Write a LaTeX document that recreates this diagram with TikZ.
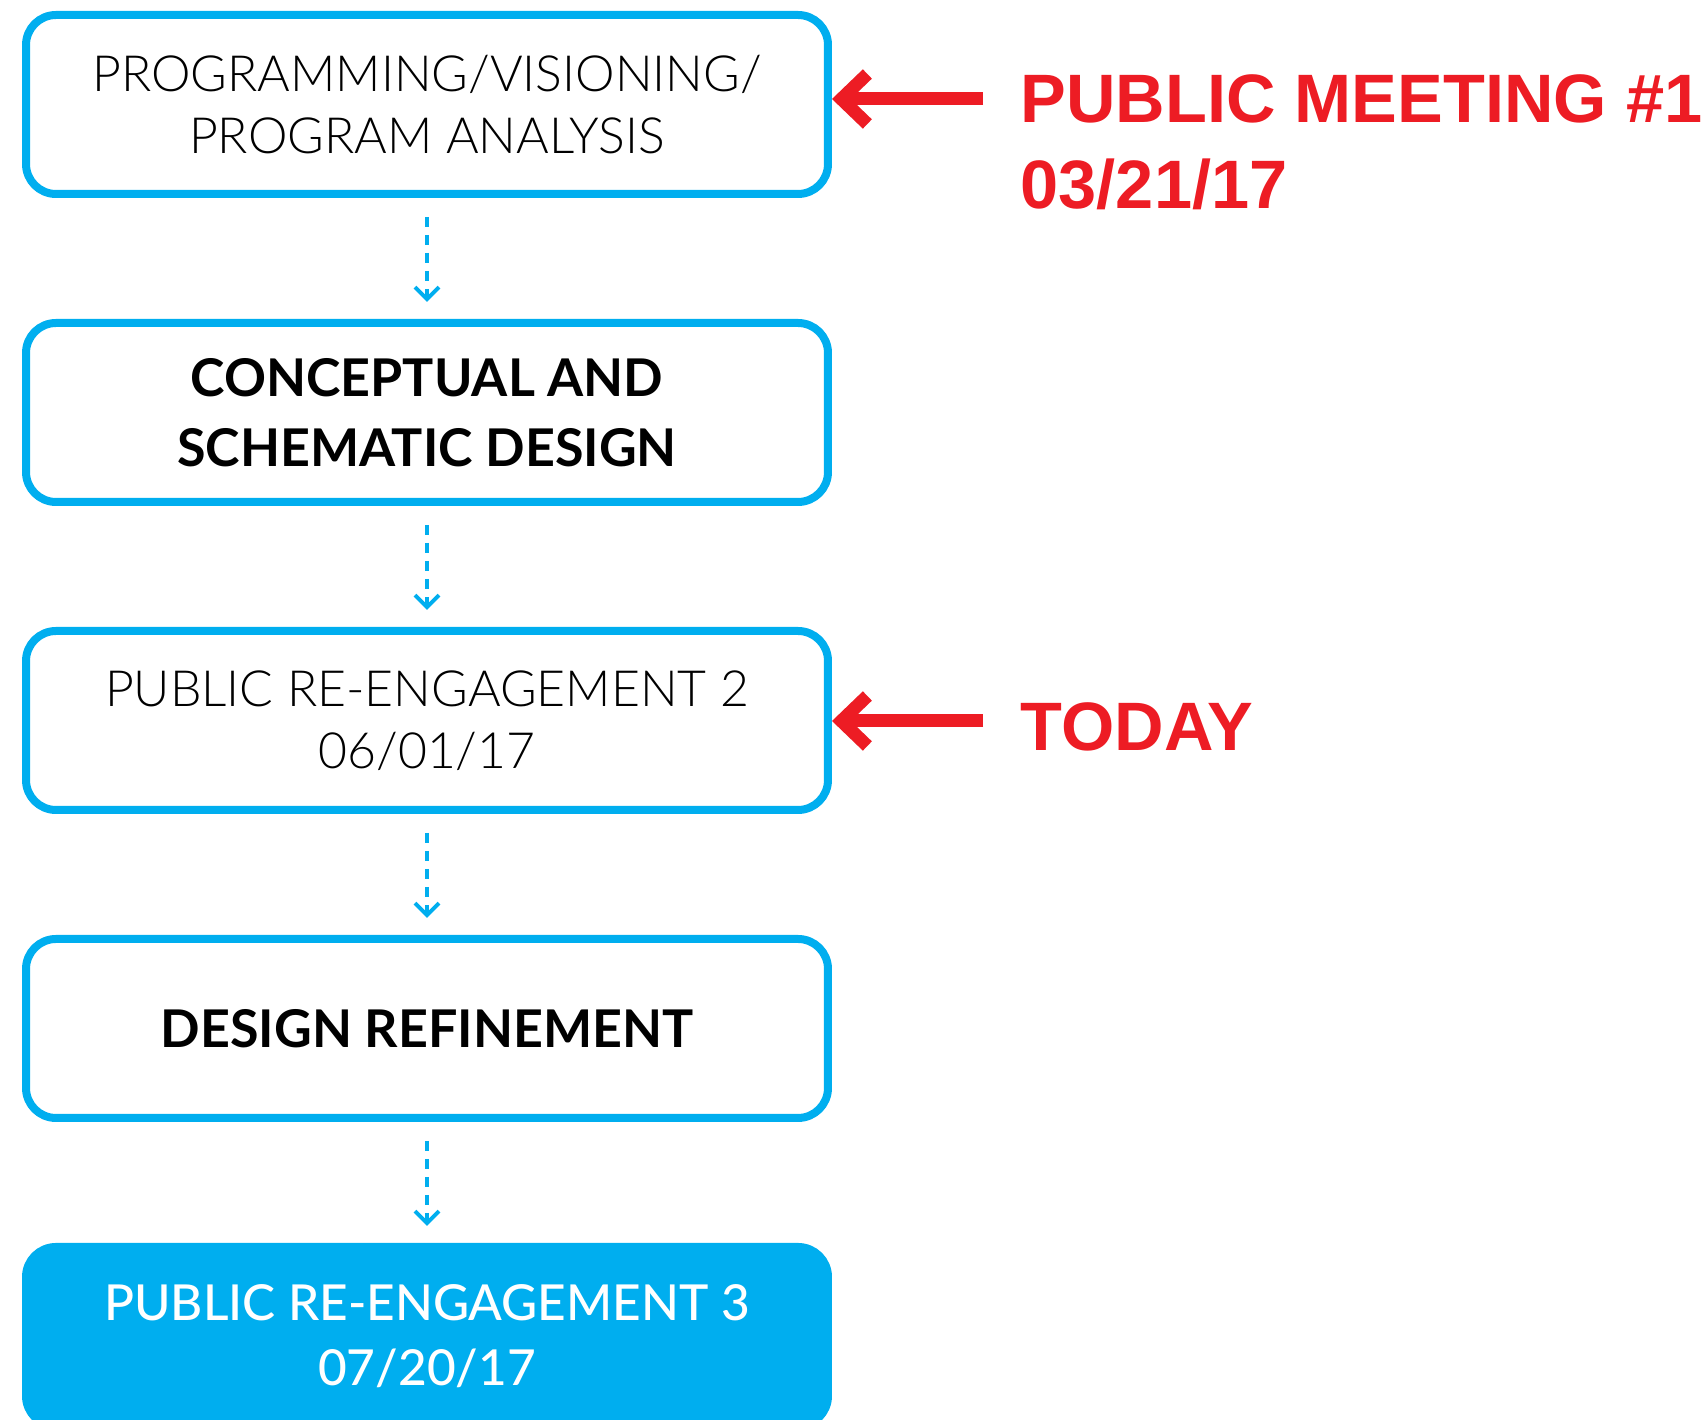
\documentclass[tikz,border=0pt]{standalone}
\usepackage{fontspec}
\setmainfont{Lato}
\newfontfamily\lightfont{Lato Light}
\newfontfamily\mediumfont{Lato Medium}
\newfontfamily\redfont{Liberation Sans}
\usetikzlibrary{positioning,arrows.meta}
\definecolor{stageblue}{HTML}{00AEEF}
\definecolor{markred}{HTML}{ED1C24}
\begin{document}
\begin{tikzpicture}[x=0.1mm,y=-0.1mm,node distance=12.1mm,
  stage/.style={draw=stageblue,line width=0.8mm,rounded corners=3mm,
    minimum width=80.2mm,minimum height=17.9mm,align=center},
  thin/.style={font=\lightfont\fontsize{14.2}{17.8}\selectfont},
  heavy/.style={font=\bfseries\fontsize{14.8}{19.9}\selectfont},
  flow/.style={stageblue,line width=0.4mm,dash pattern=on 1mm off 0.8mm,
    shorten <=1.9mm,shorten >=1.7mm,-{Straight Barb[length=1.2mm,width=2.4mm]}},
  callout/.style={markred,line width=1.3mm,-{Straight Barb[length=2.6mm,width=5mm]}},
  note/.style={text=markred,font=\redfont\bfseries\fontsize{19.5}{24.5}\selectfont,
    align=left,inner sep=0pt}]
\useasboundingbox (0,0) rectangle (1706,1420);

\node[stage,thin] (prog) at (427,104.5) {PROGRAMMING/VISIONING/\\PROGRAM ANALYSIS};
\node[stage,heavy,below=of prog] (concept) {CONCEPTUAL AND\\SCHEMATIC DESIGN};
\node[stage,thin,below=of concept] (engage2) {PUBLIC RE-ENGAGEMENT 2\\06/01/17};
\node[stage,heavy,below=of engage2] (refine) {DESIGN REFINEMENT};
\node[stage,fill=stageblue,text=white,below=of refine,
  font=\mediumfont\fontsize{14.1}{18.5}\selectfont] (engage3) {PUBLIC RE-ENGAGEMENT 3\\07/20/17};

\foreach \a/\b in {prog/concept,concept/engage2,engage2/refine,refine/engage3}
  \draw[flow] (\a) -- (\b);

% meetings
\coordinate (meet1tail) at (983,99);
\draw[callout] (meet1tail) -- (meet1tail -| prog.east);
\node[note,anchor=base west] (meet1) at (1020,209) {PUBLIC MEETING \#1\\03/21/17};
\coordinate (todaytail) at (983,721);
\draw[callout] (todaytail) -- (todaytail -| engage2.east);
\node[note,anchor=base west] (today) at (1020,751) {TODAY};
\end{tikzpicture}
\end{document}
